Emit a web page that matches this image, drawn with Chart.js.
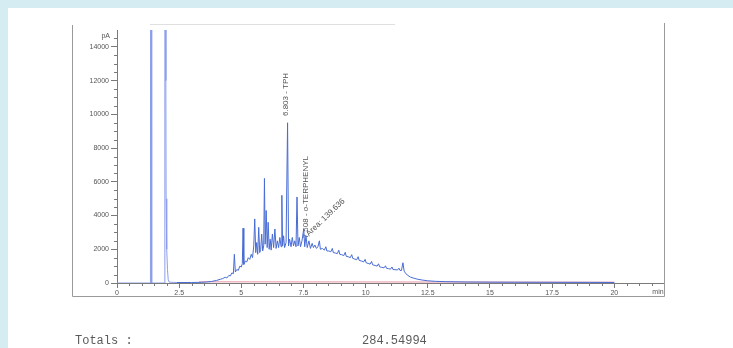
<!DOCTYPE html>
<html>
<head>
<meta charset="utf-8">
<script src="https://cdn.jsdelivr.net/npm/chart.js@4/dist/chart.umd.min.js"></script>
<style>
  html, body { margin: 0; padding: 0; }
  body { width: 733px; height: 348px; background: #d6ecf3; position: relative; overflow: hidden; }
  #sheet { position: absolute; left: 8px; top: 8px; right: 0; bottom: 0; background: #fff; }
  #chart { position: absolute; left: 0; top: 0; }
  .totals { position: absolute; top: 334px; font: 12px "Liberation Mono", monospace; color: #5a5a5a; }
</style>
</head>
<body>
<div id="sheet"></div>
<canvas id="chart" width="733" height="348"></canvas>
<div class="totals" style="left:75px">Totals :</div>
<div class="totals" style="left:362px">284.54994</div>
<script>
// retention time (min) / signal (pA)
const solventTime   = [0, 1.30, 1.345, 1.37, 1.395, 1.90, 1.925, 1.95, 1.965, 1.975, 2.00, 2.03, 2.06, 2.10, 2.40, 3.00];
const solventSignal = [0, 0, 0, 80000, 0, 0, 80000, 30000, 12000, 5000, 2000, 800, 200, 50, 30, 30];

const humpTime = [3.40, 3.60, 3.80, 4.00, 4.15, 4.25, 4.35, 4.42, 4.50, 4.56, 4.62, 4.68, 4.72, 4.76, 4.82, 4.88, 4.94, 5.00,
  5.04, 5.07, 5.10, 5.16, 5.22, 5.28, 5.34, 5.40, 5.45, 5.50, 5.54, 5.58, 5.62, 5.66, 5.70, 5.74, 5.78, 5.82, 5.86, 5.90,
  5.93, 5.96, 6.00, 6.04, 6.08, 6.12, 6.16, 6.20, 6.25, 6.30, 6.35, 6.40, 6.45, 6.50, 6.55, 6.60, 6.63, 6.66, 6.70, 6.74,
  6.80, 6.86, 6.90, 6.94, 7.00, 7.05, 7.10, 7.15, 7.20, 7.24, 7.28, 7.33, 7.38, 7.44, 7.51, 7.55, 7.60, 7.65, 7.72, 7.78,
  7.85, 7.90, 7.96, 8.02, 8.08, 8.14, 8.18, 8.26, 8.34, 8.40, 8.44, 8.52, 8.60, 8.66, 8.70, 8.78, 8.86, 8.92, 8.96, 9.04,
  9.12, 9.18, 9.22, 9.30, 9.38, 9.44, 9.48, 9.56, 9.64, 9.70, 9.74, 9.84, 9.92, 9.98, 10.02, 10.10, 10.18, 10.24, 10.28,
  10.38, 10.46, 10.52, 10.56, 10.64, 10.74, 10.80, 10.84, 10.92, 11.00, 11.06, 11.10, 11.18, 11.28, 11.34, 11.38, 11.44,
  11.50, 11.55, 11.62, 11.70, 11.80, 11.95, 12.10, 12.30, 12.50];
const humpSignal = [40, 60, 90, 150, 220, 260, 340, 300, 450, 420, 600, 550, 1700, 650, 800, 750, 1000, 950,
  1150, 3250, 1100, 1300, 1250, 1500, 1400, 1700, 1500, 2200, 3800, 1800, 2400, 1700, 3300, 1800, 2000, 2900, 1900, 2200,
  6200, 2300, 4300, 2100, 3600, 2000, 2600, 1950, 2900, 2100, 3200, 2050, 2500, 2100, 2700, 2150, 5200, 2200, 2800, 2100,
  2400, 9500, 2200, 2600, 2150, 2700, 2200, 2500, 2150, 5100, 2200, 2700, 2150, 2500, 3200, 2150, 2800, 2100, 2500, 2050,
  2350, 2100, 2250, 2050, 2150, 2500, 2000, 2050, 1950, 2150, 1900, 1900, 1850, 2050, 1800, 1780, 1740, 1950, 1700, 1680,
  1620, 1820, 1580, 1560, 1500, 1680, 1460, 1420, 1380, 1560, 1340, 1300, 1250, 1400, 1200, 1160, 1120, 1280, 1080,
  1040, 1000, 1140, 960, 930, 900, 1020, 870, 850, 820, 950, 800, 790, 770, 880, 750, 740,
  1200, 700, 550, 450, 350, 280, 220, 170, 130];

const tailTime   = [12.80, 13.20, 14.00, 15.00, 16.00, 17.50, 19.00, 20.00];
const tailSignal = [100, 80, 60, 50, 45, 40, 35, 30];

const baselineTime   = [3.30, 20.00];
const baselineSignal = [70, 50];

const xMajor = [0, 2.5, 5, 7.5, 10, 12.5, 15, 17.5, 20];
const yMajor = [0, 2000, 4000, 6000, 8000, 10000, 12000, 14000];

const peakLabels = [
  { text: '6.803 - TPH', x: 6.80, y: 9900, angle: -90 },
  { text: '7.508 - o-TERPHENYL', x: 7.58, y: 2650, angle: -90 },
  { text: 'Area: 139.636', x: 7.66, y: 2850, angle: -44 },
];

const traceTime = [...solventTime, ...humpTime, ...tailTime];
const traceSignal = [...solventSignal, ...humpSignal, ...tailSignal];
const toPoints = (xs, ys) => xs.map((x, i) => ({ x, y: ys[i] }));

const isMajor = (list, v) => list.some(m => Math.abs(m - v) < 1e-6);
const AXIS = '#7a7a7a';
const FONT = { family: '"Liberation Sans", Arial, sans-serif', size: 7 };

const decorations = {
  id: 'decorations',
  beforeDatasetsDraw(chart) {
    const { ctx, scales: { x, y } } = chart;
    ctx.save();
    ctx.fillStyle = '#555';
    ctx.font = '8px "Liberation Sans", Arial, sans-serif';
    ctx.textBaseline = 'middle';
    ctx.textAlign = 'left';
    peakLabels.forEach(l => {
      ctx.save();
      ctx.translate(x.getPixelForValue(l.x), y.getPixelForValue(l.y));
      ctx.rotate(l.angle * Math.PI / 180);
      ctx.fillText(l.text, 0, 0);
      ctx.restore();
    });
    ctx.restore();
  },
  afterDraw(chart) {
    const { ctx, chartArea: a, scales: { x, y } } = chart;
    ctx.save();
    ctx.strokeStyle = AXIS;
    ctx.lineWidth = 1;
    ctx.beginPath();
    y.ticks.forEach(t => {
      if (isMajor(yMajor, t.value) || t.value > 14500) return;
      const py = Math.round(y.getPixelForValue(t.value)) + 0.5;
      ctx.moveTo(a.left - 3, py); ctx.lineTo(a.left, py);
    });
    x.ticks.forEach(t => {
      if (isMajor(xMajor, t.value)) return;
      const px = Math.round(x.getPixelForValue(t.value)) + 0.5;
      ctx.moveTo(px, a.bottom); ctx.lineTo(px, a.bottom + 3);
    });
    ctx.stroke();

    // report frame
    ctx.strokeStyle = '#9a9a9a';
    ctx.beginPath();
    ctx.moveTo(72.5, 25); ctx.lineTo(72.5, 296.5); ctx.lineTo(664.5, 296.5); ctx.lineTo(664.5, 23);
    ctx.stroke();
    ctx.strokeStyle = 'rgba(0,0,0,0.12)';
    ctx.beginPath();
    ctx.moveTo(150, 24.5); ctx.lineTo(395, 24.5);
    ctx.stroke();

    ctx.fillStyle = '#555';
    ctx.font = '7px "Liberation Sans", Arial, sans-serif';
    ctx.textBaseline = 'middle';
    ctx.textAlign = 'right';
    ctx.fillText('pA', a.left - 7, 36);
    ctx.textAlign = 'center';
    ctx.fillText('min', a.right - 6, a.bottom + 9);
    ctx.restore();
  },
};

new Chart(document.getElementById('chart'), {
  type: 'line',
  data: {
    datasets: [
      {
        data: toPoints(traceTime, traceSignal),
        borderColor: 'rgb(72, 108, 212)',
        borderWidth: 1,
        pointRadius: 0,
        tension: 0,
        segment: { borderColor: c => (c.p0.parsed.x < 2.3 ? 'rgb(140, 158, 235)' : undefined) },
      },
      {
        data: toPoints(baselineTime, baselineSignal),
        borderColor: 'rgba(226, 120, 140, 0.8)',
        borderWidth: 1,
        pointRadius: 0,
      },
    ],
  },
  options: {
    responsive: false,
    animation: false,
    events: [],
    layout: { padding: { left: 72, right: 69, top: 30, bottom: 51 } },
    plugins: { legend: { display: false }, tooltip: { enabled: false } },
    scales: {
      x: {
        type: 'linear', min: 0, max: 22,
        afterFit: s => { s.height = 14; },
        border: { color: AXIS },
        grid: { drawOnChartArea: false, tickLength: 5, tickColor: c => (isMajor(xMajor, c.tick.value) ? AXIS : 'transparent') },
        ticks: {
          stepSize: 0.5, autoSkip: false, maxRotation: 0, padding: 1, color: '#555', font: FONT,
          callback: v => (isMajor(xMajor, v) ? String(v) : ''),
        },
      },
      y: {
        min: 0, max: 15000,
        afterFit: s => { s.width = 45; },
        border: { color: AXIS },
        grid: { drawOnChartArea: false, tickLength: 6, tickColor: c => (isMajor(yMajor, c.tick.value) ? AXIS : 'transparent') },
        ticks: {
          stepSize: 500, autoSkip: false, padding: 2, color: '#555', font: FONT,
          callback: v => (isMajor(yMajor, v) ? String(v) : ''),
        },
      },
    },
  },
  plugins: [decorations],
});
</script>
</body>
</html>
